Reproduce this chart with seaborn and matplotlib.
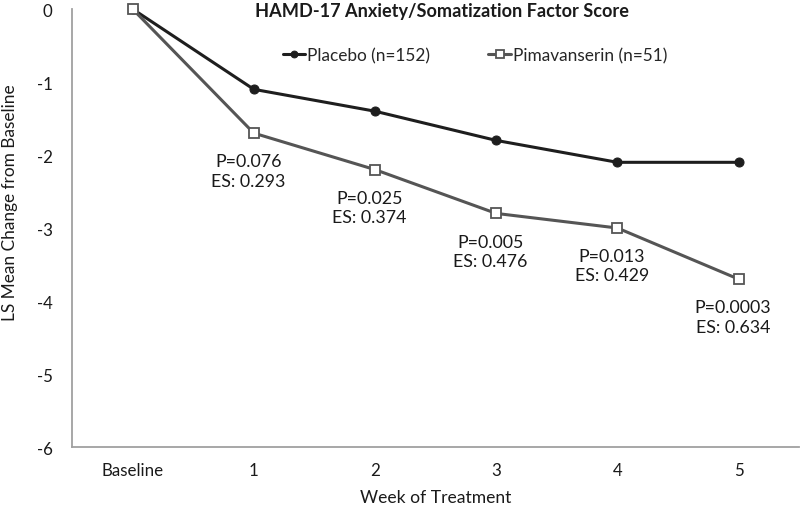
import matplotlib
matplotlib.use("Agg")
import matplotlib.pyplot as plt
import seaborn as sns
import pandas as pd

weeks = ["Baseline", "1", "2", "3", "4", "5"]
placebo = [0, -1.1, -1.4, -1.8, -2.1, -2.1]
pimavanserin = [0, -1.7, -2.2, -2.8, -3.0, -3.7]
p_values = ["", "P=0.076", "P=0.025", "P=0.005", "P=0.013", "P=0.0003"]
effect_sizes = ["", "ES: 0.293", "ES: 0.374", "ES: 0.476", "ES: 0.429", "ES: 0.634"]
yticks = [0, -1, -2, -3, -4, -5, -6]

sns.set_theme(style="white")
plt.rcParams['font.family'] = ['Lato', 'DejaVu Sans']

df_p = pd.DataFrame({"week": weeks, "value": placebo})
df_m = pd.DataFrame({"week": weeks, "value": pimavanserin})

fig = plt.figure(figsize=(8, 5.06), dpi=100)
ax = fig.add_axes([0.09, 0.1146, 0.909, 0.8656])

sns.lineplot(data=df_p, x="week", y="value", ax=ax, color="#1e1e1e", lw=2.2,
             marker="o", markersize=6.5, markeredgecolor="#1e1e1e",
             label="Placebo (n=152)", clip_on=False, sort=False)
sns.lineplot(data=df_m, x="week", y="value", ax=ax, color="#555555", lw=2.2,
             marker="s", markersize=7.5, markerfacecolor="white",
             markeredgecolor="#555555", markeredgewidth=1.3,
             label="Pimavanserin (n=51)", clip_on=False, sort=False)

for i, (p, es) in enumerate(zip(p_values, effect_sizes)):
    if not p:
        continue
    ax.annotate(p + "\n" + es, xy=(weeks[i], pimavanserin[i]), xytext=(-4, -14.5),
                textcoords="offset points", ha="center", va="top",
                fontsize=12.8, color="#1a1a1a", linespacing=1.25)

ax.set_xlim(-0.5, 5.5)
ax.set_ylim(-6, 0)
ax.set_yticks(yticks)
ax.set_yticklabels([str(t) for t in yticks])
ax.tick_params(axis="both", length=0, labelsize=12.2, colors="#1a1a1a")
ax.tick_params(axis="y", pad=14)
ax.tick_params(axis="x", pad=11)
ax.set_xlabel("Week of Treatment", fontsize=12.6, color="#1a1a1a", labelpad=8)
ax.set_ylabel("LS Mean Change from Baseline", fontsize=12.4, color="#1a1a1a")
ax.yaxis.set_label_coords(-0.074, 0.56)

for s in ["top", "right"]:
    ax.spines[s].set_visible(False)
for s in ["left", "bottom"]:
    ax.spines[s].set_color("#a0a0a0")
    ax.spines[s].set_linewidth(1.3)

fig.text(0.553, 0.978, "HAMD-17 Anxiety/Somatization Factor Score", ha="center", va="center",
         fontsize=13.1, fontweight="bold", color="#1a1a1a")

leg = ax.legend(loc="center", bbox_to_anchor=(0.554, 0.895), ncol=2, frameon=False,
                fontsize=12.4, handlelength=1.3, handletextpad=0.1, columnspacing=3.4,
                markerscale=0.75)

fig.savefig("out.png", dpi=100)
